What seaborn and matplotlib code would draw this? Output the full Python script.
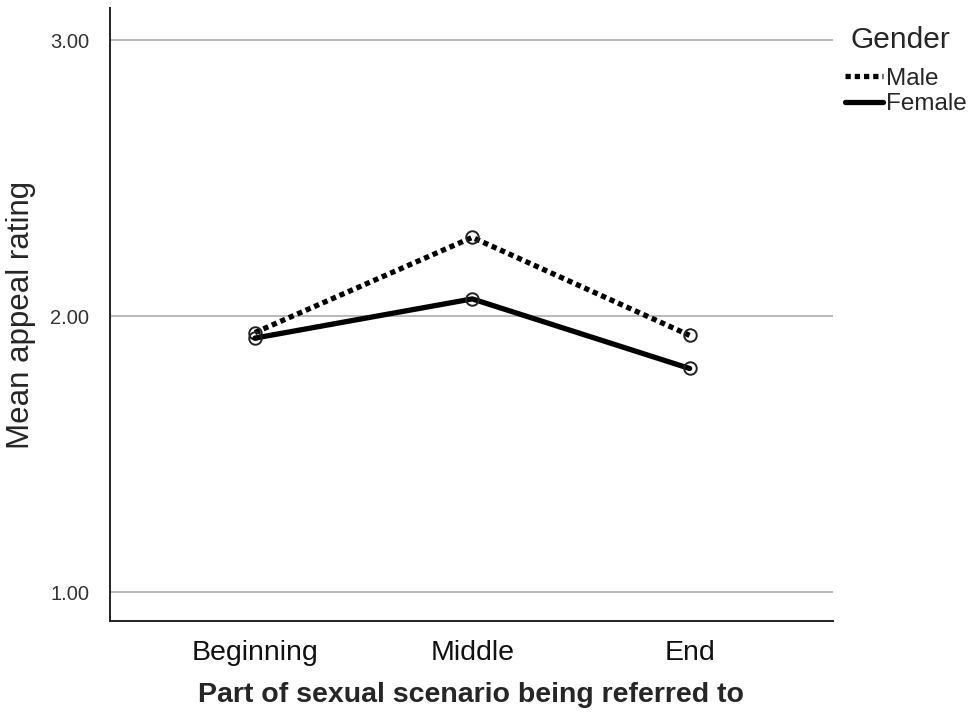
import matplotlib
matplotlib.use("Agg")
import matplotlib.pyplot as plt
from matplotlib.lines import Line2D
import seaborn as sns
import pandas as pd

parts = ["Beginning", "Middle", "End"]
male = [1.94, 2.285, 1.93]
female = [1.92, 2.062, 1.81]
y_ticks = [1.0, 2.0, 3.0]
y_tick_labels = ["1.00", "2.00", "3.00"]

df = pd.DataFrame({
    "Part": parts * 2,
    "Rating": male + female,
    "Gender": ["Male"] * 3 + ["Female"] * 3,
})
df["x"] = [0, 1, 2] * 2

sns.set_theme(style="white")
plt.rcParams["font.family"] = ["Liberation Sans", "DejaVu Sans"]

fig = plt.figure(figsize=(9.73, 7.13), dpi=100)
ax = fig.add_axes([110/973, 1-621/713, (833-110)/973, (621-8)/713])

for yt in y_ticks:
    ax.axhline(yt, color="#b4b4b4", lw=1.3, zorder=0)

sns.lineplot(data=df, x="x", y="Rating", hue="Gender", style="Gender",
             palette={"Male": "black", "Female": "black"},
             dashes={"Male": (1.0, 0.75), "Female": ""},
             lw=3.8, marker="o", markersize=9, markerfacecolor="none",
             markeredgecolor="#222222", markeredgewidth=1.4,
             legend=False, ax=ax, zorder=3)

ax.set_xlim(-0.667, 2.66)
ax.set_ylim(0.895, 3.116)
ax.set_xticks([0, 1, 2])
ax.set_xticklabels(parts, fontsize=20.5, color="#111111")
ax.set_yticks(y_ticks)
ax.set_yticklabels(y_tick_labels, fontsize=14.5, color="#333333")
ax.tick_params(axis="y", length=0, pad=15)
ax.tick_params(axis="x", length=0, pad=14)
ax.set_xlabel("Part of sexual scenario being referred to", fontsize=20.5,
              fontweight="bold", labelpad=11)
ax.set_ylabel("Mean appeal rating", fontsize=22.5)
ax.yaxis.set_label_coords(-0.102, 0.5)
sns.despine(ax=ax)
for s in ["left", "bottom"]:
    ax.spines[s].set_color("#222222")
    ax.spines[s].set_linewidth(1.4)

handles = [
    Line2D([], [], color="black", lw=3.8, dashes=(1.0, 0.75)),
    Line2D([], [], color="black", lw=3.8),
]
leg = fig.legend(handles, ["Male", "Female"], title="Gender",
                 loc="upper left", bbox_to_anchor=(823/973, 1-4/713),
                 frameon=False, fontsize=17.5, title_fontsize=21.5,
                 handlelength=1.55, handletextpad=0.15, labelspacing=0.15)
leg._legend_box.align = "left"
leg._legend_box.sep = 10
leg.get_title().set_position((6, 0))

fig.savefig("out.png", dpi=100)
